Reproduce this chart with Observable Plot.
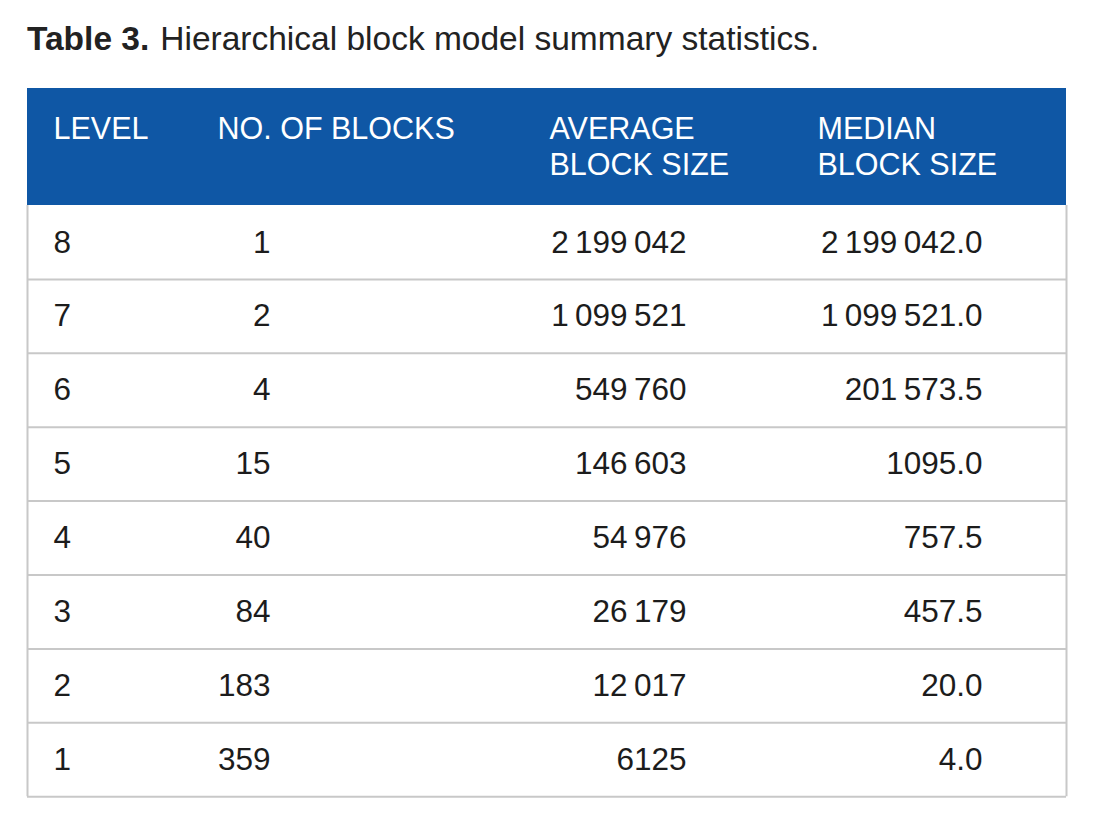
<!DOCTYPE html>
<html>
<head>
<meta charset="utf-8">
<script src="https://cdn.jsdelivr.net/npm/d3@7"></script>
<script src="https://cdn.jsdelivr.net/npm/@observablehq/plot@0.6"></script>
<style>
  html, body { margin: 0; padding: 0; background: #ffffff; }
  body { width: 1093px; height: 823px; position: relative; overflow: hidden; font-family: "Liberation Sans", Arial, sans-serif; }
  #title { position: absolute; left: 27px; top: 22px; font-size: 33.5px; line-height: 1; color: #222222; white-space: nowrap; }
  #title b { font-weight: bold; }
  #title span { margin-left: 11px; }
  #chart { position: absolute; left: 0; top: 88px; }
</style>
</head>
<body>
<div id="title"><b>Table 3.</b><span>Hierarchical block model summary statistics.</span></div>
<div id="chart"></div>
<script>
// ---- data ----
const headers = ["LEVEL", "NO. OF BLOCKS", "AVERAGE\nBLOCK SIZE", "MEDIAN\nBLOCK SIZE"];
const levels = [8, 7, 6, 5, 4, 3, 2, 1];
const blockCounts = [1, 2, 4, 15, 40, 84, 183, 359];
const averageSizes = [2199042, 1099521, 549760, 146603, 54976, 26179, 12017, 6125];
const medianSizes = [2199042.0, 1099521.0, 201573.5, 1095.0, 757.5, 457.5, 20.0, 4.0];

// ---- layout (table units) ----
const W = 1039, headerH = 117, rowH = 73.9;
const headerX = [26, 190, 522, 790];
const valueX = [26, 243, 659, 955];
const valueAnchor = ["start", "end", "end", "end"];
const blue = "#0f57a5", grid = "#c8c8c8", ink = "#1c1c1c";

function fmt(v, dec) {
  let s = v.toFixed(dec);
  let [int, frac] = s.split(".");
  if (int.length > 4) int = int.replace(/\B(?=(\d{3})+(?!\d))/g, "\u2009");
  return frac !== undefined ? int + "." + frac : int;
}

const rows = levels.map((lev, i) => ({
  i,
  cells: [String(lev), String(blockCounts[i]), fmt(averageSizes[i], 0), fmt(medianSizes[i], 1)]
}));
const cells = rows.flatMap(r => r.cells.map((t, c) => ({row: r.i, col: c, text: t})));

const totalH = headerH + levels.length * rowH;

const chart = Plot.plot({
  width: 1093,
  height: 735,
  marginLeft: 27,
  marginRight: 27,
  marginTop: 0,
  marginBottom: 735 - totalH,
  x: {type: "linear", domain: [0, W], axis: null},
  y: {type: "linear", domain: [0, totalH], range: [0, totalH], axis: null},
  style: {fontFamily: "'Liberation Sans', Arial, sans-serif", background: "white", overflow: "visible"},
  marks: [
    Plot.rect([headers], {x1: () => 0, x2: () => W, y1: () => 0, y2: () => headerH, fill: blue}),
    Plot.ruleY(rows, {y: d => headerH + (d.i + 1) * rowH, x1: () => 0, x2: () => W, stroke: grid, strokeWidth: 2}),
    Plot.ruleX([0, W], {x: d => d, y1: () => headerH, y2: () => totalH, stroke: grid, strokeWidth: 2}),
    Plot.text(headers, {
      x: (d, i) => headerX[i], y: () => 25, text: d => d,
      textAnchor: "start", lineAnchor: "top", lineHeight: 1.18,
      fill: "white", fontSize: 30.5
    }),
    ...[0, 1, 2, 3].map(c => Plot.text(cells.filter(d => d.col === c), {
      x: () => valueX[c], y: d => headerH + (d.row + 0.5) * rowH, text: "text",
      textAnchor: valueAnchor[c], lineAnchor: "middle", fill: ink, fontSize: 31.5
    }))
  ]
});
document.getElementById("chart").appendChild(chart);
</script>
</body>
</html>
